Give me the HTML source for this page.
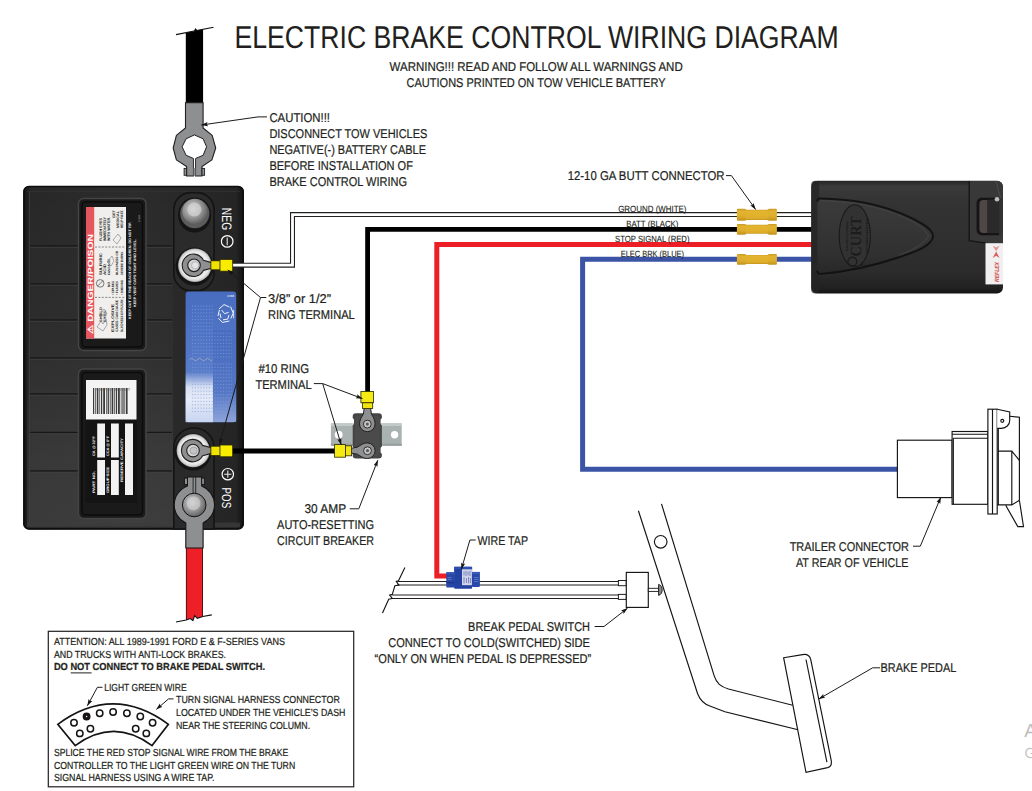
<!DOCTYPE html>
<html lang="en">
<head>
<meta charset="utf-8">
<title>Electric Brake Control Wiring Diagram</title>
<style>
  html, body { margin: 0; padding: 0; background: #ffffff; }
  body { width: 1032px; height: 791px; overflow: hidden; position: relative; }
  svg { display: block; position: absolute; left: 0; top: 0; }
  text { font-family: "Liberation Sans", sans-serif; text-rendering: geometricPrecision; fill: #231f20; stroke: #231f20; stroke-width: 0.22px; }
  #battery text, #controller text, #watermark text { stroke: none; }
  .t  { font-size: 12.8px; }
  .ts { font-size: 10.2px; }
  .tw { font-size: 9px; stroke-width: 0.12px; }
  .ld { fill: none; stroke: #1d1a1b; stroke-width: 1; }
  .ln { fill: none; stroke: #161314; stroke-width: 1.15; }
</style>
</head>
<body>
<svg width="1032" height="791" viewBox="0 0 1032 791">
  <defs>
    <marker id="ah" viewBox="0 0 10 10" refX="9.5" refY="5" markerWidth="6.8" markerHeight="6.8" orient="auto-start-reverse" markerUnits="userSpaceOnUse">
      <path d="M0,1.9 L10,5 L0,8.1 L1.8,5 Z" fill="#161314"/>
    </marker>
  </defs>
  <rect x="0" y="0" width="1032" height="791" fill="#ffffff"/>

  <!-- ================= TITLE ================= -->
  <g id="title">
    <text x="234.4" y="47.9" style="stroke-width:0.05px" font-size="31.6" textLength="604.4" lengthAdjust="spacingAndGlyphs">ELECTRIC BRAKE CONTROL WIRING DIAGRAM</text>
    <text class="t" x="389.6" y="71" textLength="293.1" lengthAdjust="spacingAndGlyphs">WARNING!!! READ AND FOLLOW ALL WARNINGS AND</text>
    <text class="t" x="406.6" y="86.9" textLength="258.9" lengthAdjust="spacingAndGlyphs">CAUTIONS PRINTED ON TOW VEHICLE BATTERY</text>
  </g>

  <!-- ================= BATTERY ================= -->
  <defs>
    <linearGradient id="batBody" x1="0" y1="0" x2="1" y2="0">
      <stop offset="0" stop-color="#141414"/>
      <stop offset="0.035" stop-color="#282828"/>
      <stop offset="0.5" stop-color="#2c2c2c"/>
      <stop offset="0.965" stop-color="#252525"/>
      <stop offset="1" stop-color="#121212"/>
    </linearGradient>
    <linearGradient id="blueLbl" x1="0" y1="0" x2="0" y2="1">
      <stop offset="0" stop-color="#486dc0"/>
      <stop offset="0.5" stop-color="#5478c7"/>
      <stop offset="0.8" stop-color="#6284cd"/>
      <stop offset="1" stop-color="#6c8cd2"/>
    </linearGradient>
    <linearGradient id="blueFade" x1="0" y1="0" x2="0" y2="1">
      <stop offset="0" stop-color="#ffffff" stop-opacity="0"/>
      <stop offset="0.3" stop-color="#ffffff" stop-opacity="0.75"/>
      <stop offset="0.55" stop-color="#f4f7fd" stop-opacity="0.9"/>
      <stop offset="1" stop-color="#dfe8f8" stop-opacity="0.8"/>
    </linearGradient>
    <linearGradient id="blueFade2" x1="0" y1="0" x2="0" y2="1">
      <stop offset="0" stop-color="#ffffff" stop-opacity="0"/>
      <stop offset="1" stop-color="#ffffff" stop-opacity="0.3"/>
    </linearGradient>
    <linearGradient id="batV" x1="0" y1="0" x2="0" y2="1">
      <stop offset="0" stop-color="#ffffff" stop-opacity="0"/>
      <stop offset="0.45" stop-color="#ffffff" stop-opacity="0.025"/>
      <stop offset="0.8" stop-color="#ffffff" stop-opacity="0.075"/>
      <stop offset="1" stop-color="#ffffff" stop-opacity="0.085"/>
    </linearGradient>
    <radialGradient id="silver" cx="0.42" cy="0.4" r="0.65">
      <stop offset="0" stop-color="#d9d9d9"/>
      <stop offset="0.5" stop-color="#9c9c9c"/>
      <stop offset="1" stop-color="#585858"/>
    </radialGradient>
    <radialGradient id="post" cx="0.5" cy="0.5" r="0.5">
      <stop offset="0" stop-color="#e2e2e2"/>
      <stop offset="0.8" stop-color="#ebebeb"/>
      <stop offset="0.93" stop-color="#cfcfcf"/>
      <stop offset="1" stop-color="#9a9a9a"/>
    </radialGradient>
  </defs>
  <g id="battery">
    <rect x="23.4" y="186" width="220.3" height="343.4" rx="5.5" ry="5.5" fill="url(#batBody)"/>
    <rect x="23.9" y="186.5" width="219.3" height="342.4" rx="5" ry="5" fill="none" stroke="#0e0e0e" stroke-width="1.6"/>
    <rect x="27" y="190" width="146" height="336" fill="url(#batV)"/>
    <!-- subtle moulded grid -->
    <g stroke="#181818" stroke-width="1.4">
      <path d="M29,246 H172 M29,284 H172 M29,320 H172 M29,358 H172 M29,394 H172 M29,432.5 H172 M29,471 H172"/>
    </g>
    <g stroke="#424242" stroke-width="1.1" opacity="0.8">
      <path d="M29,247.3 H172 M29,285.3 H172 M29,321.3 H172 M29,359.3 H172 M29,395.3 H172 M29,433.8 H172 M29,472.3 H172"/>
      <path d="M29.5,192 V523"/>
    </g>
    <rect x="27" y="522.6" width="213" height="4.6" fill="#3c3c3c" opacity="0.75"/>
    <path d="M27,191.4 H240" stroke="#343434" stroke-width="1" opacity="0.8"/>

    <!-- terminal channel -->
    <rect x="173.8" y="192.6" width="40.2" height="98" rx="17" ry="17" fill="#2b2b2b" stroke="#141414" stroke-width="1.6"/>
    <path d="M173.8,529 V447 a20.1,19 0 0 1 40.2,0 V529 Z" fill="#2a2a2a" stroke="#141414" stroke-width="1.6"/>

    <!-- warning label cap (top) -->
    <rect x="78.5" y="198.5" width="67.5" height="152" rx="5" fill="#1a1a1a" stroke="#444444" stroke-width="1.5"/>
    <rect x="82" y="202" width="60.5" height="145" rx="3.5" fill="none" stroke="#0c0c0c" stroke-width="1.4"/>
    <rect x="86" y="207" width="40" height="131.5" fill="#f1efee"/>
    <rect x="86" y="207" width="8.2" height="131.5" fill="#e5575e"/>
    <g transform="translate(92.8,334) rotate(-90)">
      <text x="0" y="0" font-size="7.6" font-weight="bold" style="fill:#ffffff" textLength="100" lengthAdjust="spacingAndGlyphs">⚠ DANGER/POISON</text>
    </g>
    <g stroke="#5a5a5a" stroke-width="0.7" stroke-dasharray="2 1.4">
      <path d="M95,247 H125 M95,297.4 H125"/>
    </g>
    <g font-weight="bold">
      <g transform="translate(102,322) rotate(-90)"><text x="0" y="0" font-size="3.5" textLength="15" lengthAdjust="spacingAndGlyphs">SHIELD</text></g>
      <g transform="translate(105.6,322) rotate(-90)"><text x="0" y="0" font-size="3.5" textLength="12" lengthAdjust="spacingAndGlyphs">EYES.</text></g>
      <g transform="translate(114,332) rotate(-90)"><text x="0" y="0" font-size="3.8" textLength="28" lengthAdjust="spacingAndGlyphs">EXPLOSIVE</text></g>
      <g transform="translate(118.3,332) rotate(-90)"><text x="0" y="0" font-size="3.5" textLength="32" lengthAdjust="spacingAndGlyphs">GASES CAN CAUSE</text></g>
      <g transform="translate(122.6,332) rotate(-90)"><text x="0" y="0" font-size="3.5" textLength="33" lengthAdjust="spacingAndGlyphs">BLINDNESS OR INJURY.</text></g>
      <g transform="translate(109.5,287) rotate(-90)"><text x="0" y="0" font-size="3.5" textLength="5" lengthAdjust="spacingAndGlyphs">NO</text></g>
      <g transform="translate(114,295) rotate(-90)"><text x="0" y="0" font-size="3.3" textLength="14" lengthAdjust="spacingAndGlyphs">• SPARKS</text></g>
      <g transform="translate(118.3,295) rotate(-90)"><text x="0" y="0" font-size="3.3" textLength="14" lengthAdjust="spacingAndGlyphs">• FLAMES</text></g>
      <g transform="translate(122.6,295) rotate(-90)"><text x="0" y="0" font-size="3.3" textLength="15" lengthAdjust="spacingAndGlyphs">• SMOKING</text></g>
      <g transform="translate(102,275) rotate(-90)"><text x="0" y="0" font-size="3.8" textLength="22" lengthAdjust="spacingAndGlyphs">SULFURIC</text></g>
      <g transform="translate(106,275) rotate(-90)"><text x="0" y="0" font-size="3.8" textLength="11" lengthAdjust="spacingAndGlyphs">ACID</text></g>
      <g transform="translate(110.4,275) rotate(-90)"><text x="0" y="0" font-size="3.3" textLength="16" lengthAdjust="spacingAndGlyphs">CAN CAUSE</text></g>
      <g transform="translate(118.3,275) rotate(-90)"><text x="0" y="0" font-size="3.3" textLength="24" lengthAdjust="spacingAndGlyphs">BLINDNESS OR</text></g>
      <g transform="translate(122.6,275) rotate(-90)"><text x="0" y="0" font-size="3.3" textLength="24" lengthAdjust="spacingAndGlyphs">SEVERE BURNS.</text></g>
      <g transform="translate(102,241) rotate(-90)"><text x="0" y="0" font-size="3.8" textLength="23" lengthAdjust="spacingAndGlyphs">FLUSH EYES</text></g>
      <g transform="translate(106,241) rotate(-90)"><text x="0" y="0" font-size="3.8" textLength="24" lengthAdjust="spacingAndGlyphs">IMMEDIATELY</text></g>
      <g transform="translate(110.4,241) rotate(-90)"><text x="0" y="0" font-size="3.8" textLength="24" lengthAdjust="spacingAndGlyphs">WITH WATER.</text></g>
      <g transform="translate(114.8,218) rotate(-90)"><text x="0" y="0" font-size="3.6" textLength="8" lengthAdjust="spacingAndGlyphs">GET</text></g>
      <g transform="translate(118.6,228) rotate(-90)"><text x="0" y="0" font-size="3.6" textLength="17" lengthAdjust="spacingAndGlyphs">MEDICAL</text></g>
      <g transform="translate(122.6,228) rotate(-90)"><text x="0" y="0" font-size="3.6" textLength="18" lengthAdjust="spacingAndGlyphs">HELP FAST.</text></g>
    </g>
    <circle cx="100.2" cy="283.4" r="3.8" fill="none" stroke="#444" stroke-width="0.7"/>
    <path d="M97.6,286 L102.8,280.8" stroke="#444" stroke-width="0.7"/>
    <path d="M97,327 l4,-6 l2,3 l3,-5 l1,6 l-4,6 z M99,316 l5,-7 l3,5 z M107,262 l5,-6 l2,5 l-3,5 z M113,240 l5,-6 l3,4 l-4,6 z" fill="none" stroke="#777" stroke-width="0.6"/>
      <g transform="translate(131.2,319) rotate(-90)"><text font-weight="bold" x="0" y="0" font-size="3.6" style="fill:#f4f4f4" textLength="97" lengthAdjust="spacingAndGlyphs">KEEP OUT OF THE REACH OF CHILDREN. DO NOT TIP.</text></g>
      <g transform="translate(135.5,307) rotate(-90)"><text font-weight="bold" x="0" y="0" font-size="3.6" style="fill:#f4f4f4" textLength="68" lengthAdjust="spacingAndGlyphs">KEEP VENT CAPS TIGHT AND LEVEL.</text></g>
      <g transform="translate(139.5,222) rotate(-90)"><text x="0" y="0" font-size="2.4" style="fill:#bbbbbb" textLength="7" lengthAdjust="spacingAndGlyphs">3-304</text></g>

    <!-- spec label cap (bottom) -->
    <rect x="78.5" y="369" width="67.5" height="149.5" rx="5" fill="#1a1a1a" stroke="#444444" stroke-width="1.5"/>
    <rect x="82" y="372.5" width="60.5" height="142.5" rx="3.5" fill="none" stroke="#0c0c0c" stroke-width="1.4"/>
    <rect x="85.5" y="419" width="51.5" height="84" fill="#141414"/>
    <rect x="86" y="380" width="50.5" height="39.5" fill="#f4f4f4"/>
    <g fill="#3a3a3a">
      <rect x="93" y="388" width="1.2" height="26"/><rect x="95.2" y="388" width="0.7" height="26"/><rect x="96.8" y="388" width="1.6" height="26"/>
      <rect x="99.4" y="388" width="0.7" height="26"/><rect x="101" y="388" width="1.2" height="26"/><rect x="103.2" y="388" width="1.8" height="26"/>
      <rect x="106" y="388" width="0.7" height="26"/><rect x="107.6" y="388" width="1.3" height="26"/><rect x="109.8" y="388" width="0.8" height="26"/>
      <rect x="111.6" y="388" width="1.7" height="26"/><rect x="114.2" y="388" width="0.7" height="26"/><rect x="115.8" y="388" width="1.3" height="26"/>
      <rect x="118" y="388" width="1.8" height="26"/><rect x="120.8" y="388" width="0.7" height="26"/><rect x="122.4" y="388" width="1.2" height="26"/>
      <rect x="124.4" y="388" width="0.8" height="26"/><rect x="126" y="388" width="1.6" height="26"/>
    </g>
    <g transform="translate(130,388) rotate(180)"><text x="0" y="0" font-size="3.8" style="fill:#555" textLength="34" lengthAdjust="spacingAndGlyphs">0 31996 76168 9</text></g>
    <g fill="#f2f2f2">
      <rect x="97.2" y="423.5" width="7.8" height="34"/><rect x="97.2" y="460" width="7.8" height="35"/>
      <rect x="111" y="423.5" width="7.8" height="34"/><rect x="111" y="460" width="7.8" height="35"/>
      <rect x="125" y="423.5" width="8" height="71.5"/>
    </g>
    <g font-weight="bold">
      <g transform="translate(95.4,456) rotate(-90)"><text x="0" y="0" font-size="3.6" style="fill:#f0f0f0" textLength="20" lengthAdjust="spacingAndGlyphs">CA @ 32°F</text></g>
      <g transform="translate(109.2,456) rotate(-90)"><text x="0" y="0" font-size="3.6" style="fill:#f0f0f0" textLength="20" lengthAdjust="spacingAndGlyphs">CCA @ 0°F</text></g>
      <g transform="translate(95.4,493) rotate(-90)"><text x="0" y="0" font-size="3.6" style="fill:#f0f0f0" textLength="22" lengthAdjust="spacingAndGlyphs">PART NO.</text></g>
      <g transform="translate(109.2,493) rotate(-90)"><text x="0" y="0" font-size="3.6" style="fill:#f0f0f0" textLength="26" lengthAdjust="spacingAndGlyphs">GROUP SIZE</text></g>
      <g transform="translate(123.2,482) rotate(-90)"><text x="0" y="0" font-size="3.6" style="fill:#f0f0f0" textLength="44" lengthAdjust="spacingAndGlyphs">RESERVE CAPACITY</text></g>
    </g>

    <!-- blue label -->
    <rect x="185.6" y="291.4" width="50.6" height="130.8" rx="3" fill="url(#blueLbl)"/>
    <rect x="213" y="330" width="23.2" height="92.2" fill="#3f62b6" opacity="0.35"/>
    <rect x="185.6" y="372" width="27.4" height="50.2" fill="url(#blueFade)"/>
    <rect x="213" y="392" width="23.2" height="30" fill="url(#blueFade2)"/>
    <g stroke="#86a2de" stroke-width="0.9" stroke-dasharray="1.2 1.6" opacity="0.75">
      <path d="M192,306 h22 M192,309.4 h22 M192,312.8 h22 M192,316.2 h22 M192,319.6 h22 M192,323 h22 M192,326.4 h22 M192,329.8 h22 M192,333.2 h40 M192,336.6 h40 M192,340 h40 M192,343.4 h40 M192,346.8 h40 M192,350.2 h40 M192,353.6 h40 M192,357 h40 M192,364 h40 M192,367.4 h40 M192,370.8 h40 M192,374.2 h40 M192,377.6 h40 M192,381 h40 M192,384.4 h40 M192,387.8 h40 M192,391.2 h40 M192,394.6 h40 M192,398 h40 M192,401.4 h40 M192,404.8 h40 M192,408.2 h40 M192,411.6 h40"/>
    </g>
    <g fill="none" stroke="#f1f4fb" stroke-width="1">
      <path d="M219,309 l5,-4.4 l5.4,2.4 M230.6,306.6 l2.6,6.6 l-2.4,5.4 M229.4,321 l-7,1.4 l-4,-4.2 M218,316 l1.4,-6 M221.6,310 l3,3.6 l4,-1.2 M229,315 l-1.4,4.2 l-4.6,0.6 M221,318 l-1,-4.4"/>
      <path d="M233.6,310 v8.4" stroke-width="0.8"/>
    </g>
    <text x="227" y="297.2" font-size="2.8" font-weight="bold" style="fill:#eef2fb" textLength="7" lengthAdjust="spacingAndGlyphs">J-004</text>
    <path d="M189.6,359.6 q2,-2.4 4,0 t4,0 t4,0 t4,0 t4,0 t3,0" fill="none" stroke="#c8c4c4" stroke-width="0.7" opacity="0.8"/>

    <!-- NEG post -->
    <ellipse cx="194.6" cy="215" rx="16.6" ry="17.6" fill="#151515"/>
    <circle cx="194.8" cy="213.6" r="14.6" fill="#5c5c5c"/>
    <circle cx="194.9" cy="211.4" r="12.6" fill="url(#silver)"/>
    <circle cx="194.4" cy="209.6" r="7" fill="#d4d4d4" opacity="0.7"/>
    <!-- NEG ring post -->
    <circle cx="194.6" cy="266.6" r="19" fill="#141414"/>
    <circle cx="194.9" cy="265.2" r="16.8" fill="url(#post)"/>
    <!-- POS ring post -->
    <circle cx="193" cy="452" r="18.6" fill="#141414"/>
    <circle cx="193.2" cy="450.6" r="16.6" fill="url(#post)"/>

    <!-- NEG / POS lettering -->
    <g transform="translate(222.2,207.8) rotate(90)"><text x="0" y="0" font-size="13.6" style="fill:#ffffff" textLength="22.4" lengthAdjust="spacingAndGlyphs">NEG</text></g>
    <circle cx="227.2" cy="241.4" r="5.8" fill="none" stroke="#ffffff" stroke-width="1.2"/>
    <path d="M227.2,237.6 V245.2" stroke="#e8e8e8" stroke-width="1.1"/>
    <g transform="translate(222.4,487.6) rotate(90)"><text x="0" y="0" font-size="13" style="fill:#ffffff" textLength="20.6" lengthAdjust="spacingAndGlyphs">POS</text></g>
    <circle cx="227.8" cy="474.2" r="5.7" fill="none" stroke="#ffffff" stroke-width="1.2"/>
    <path d="M227.8,470.6 V477.8 M224.2,474.2 H231.4" stroke="#e8e8e8" stroke-width="1.1"/>
  </g>
  <!-- ================= WIRES ================= -->
  <g id="wires" fill="none" stroke-linejoin="miter">
    <!-- white (ground) -->
    <path d="M232,265.2 H292.5 V214.6 H813" stroke="#231f20" stroke-width="5"/>
    <path d="M232,265.2 H292.5 V214.6 H813" stroke="#ffffff" stroke-width="2.8"/>
    <!-- black (batt) -->
    <path d="M813,229.4 H367.6 V392" stroke="#000000" stroke-width="4.8"/>
    <path d="M231,450.9 H336" stroke="#000000" stroke-width="5"/>
    <!-- red (stop) -->
    <path d="M813,244.5 H436.8 V576.1 H448" stroke="#ec1f26" stroke-width="5"/>
    <!-- blue (brake) -->
    <path d="M813,259.2 H582.6 V469.3 H897.4" stroke="#3b54a5" stroke-width="5"/>
  </g>

  <!-- placeholders for components: filled in below -->
  <!-- ================= NEGATIVE CABLE (disconnected) ================= -->
  <g id="negcable">
    <path d="M185.8,32.7 L191.8,31.5 L193.4,32.1 L195.5,28 L197.2,30.3 L203.1,29.2 V103 H185.8 Z" fill="#000000"/>
    <path d="M176,34.6 L213.5,27.2" stroke="#111111" stroke-width="1.1" fill="none"/>
    <!-- lug -->
    <path d="M185.5,102.6 H203.1 V128 L212.2,135.4 L215.7,148 L211.9,159.9 L202,166.5 V176 H195.5 V159.3 H193.5 V176 H186.6 V166.5 L176.4,159.9 L173.2,148 L176.4,135.4 L185.5,128 Z" fill="#8d8f90" stroke="#231f20" stroke-width="1.1" stroke-linejoin="round"/>
    <!-- hole -->
    <path d="M194.4,134.9 L203.1,138.8 L206.6,146.8 L203.1,155.3 L195.5,158.5 V160 H193.5 V158.5 L186.1,155.3 L182.1,146.8 L186.1,138.8 Z" fill="#ffffff" stroke="#231f20" stroke-width="1" stroke-linejoin="round"/>
    <rect x="193.9" y="157.6" width="1.2" height="10.4" fill="#ffffff"/>
    <rect x="193.5" y="168" width="2" height="8" fill="#8d8f90"/>
    <!-- pinch bolt -->
    <rect x="184.1" y="168.4" width="2.5" height="6.9" fill="#8d8f90" stroke="#231f20" stroke-width="0.9"/>
    <rect x="202" y="168.4" width="2.6" height="6.9" fill="#8d8f90" stroke="#231f20" stroke-width="0.9"/>
  </g>
  <!-- ================= POSITIVE CABLE / CLAMP ================= -->
  <g id="poscable">
    <path d="M186.2,548 H202.7 V616.5 L197.3,618.3 L194.7,615.6 L192.9,620.6 L190.3,618.5 L186.2,620 Z" fill="#ed2027"/>
    <path d="M186.4,548 V620 M202.5,548 V616.6" stroke="#3a0a0c" stroke-width="0.9" fill="none"/>
    <path d="M176,622 L186.2,620 L190.3,618.5 L192.9,620.6 L194.7,615.6 L197.3,618.3 L202.7,616.5 L211.8,614.9" stroke="#111111" stroke-width="1.1" fill="none"/>
    <!-- clamp -->
    <path d="M185.8,548 V523.1 A20.2,20.2 0 0 1 187.4,485.9 V477 H201.7 V486 A20.2,20.2 0 0 1 203.1,523 V548 Z" fill="#8d8f90" stroke="#161314" stroke-width="1.1" stroke-linejoin="round"/>
    <path d="M193.1,477 V493.6 M195.7,477 V493.6" stroke="#232323" stroke-width="0.9" fill="none"/>
    <rect x="184.4" y="478.1" width="3" height="6.3" fill="#8d8f90" stroke="#161314" stroke-width="0.9"/>
    <rect x="201.7" y="478.1" width="2.7" height="6.3" fill="#8d8f90" stroke="#161314" stroke-width="0.9"/>
    <circle cx="194.2" cy="505" r="11.8" fill="url(#silver)" stroke="#161314" stroke-width="1"/>
    <circle cx="193.6" cy="503.4" r="6.8" fill="#d2d2d2" opacity="0.6"/>
  </g>
  <!-- ================= RING TERMINALS / CIRCUIT BREAKER ================= -->
  <g id="ringterms">
    <!-- NEG ring terminal on battery -->
    <path d="M203.4,260.2 L211.4,262.6 V268.2 L203.4,270.4 A11.2,11.2 0 1 1 203.4,260.2 Z" fill="#8d8f90" stroke="#231f20" stroke-width="1.1" stroke-linejoin="round"/>
    <circle cx="194" cy="265.3" r="6.3" fill="#d4d4d4" stroke="#231f20" stroke-width="1.1"/>
    <circle cx="195.2" cy="265.3" r="3.6" fill="#e4e4e4" stroke="#9a9a9a" stroke-width="0.6"/>
    <rect x="210.9" y="260.8" width="9.4" height="9" fill="#f1e300" stroke="#2a2700" stroke-width="0.8"/>
    <rect x="220" y="259.4" width="12.7" height="11.8" fill="#f8ec00" stroke="#2a2700" stroke-width="0.8"/>
    <!-- POS ring terminal on battery -->
    <path d="M202.6,445.4 L211.4,447.8 V453.4 L202.6,455.8 A11.2,11.2 0 1 1 202.6,445.4 Z" fill="#8d8f90" stroke="#231f20" stroke-width="1.1" stroke-linejoin="round"/>
    <circle cx="193" cy="450.6" r="6.3" fill="#d4d4d4" stroke="#231f20" stroke-width="1.1"/>
    <circle cx="193.6" cy="450.6" r="3.6" fill="#c4c4c4" stroke="#8d8d8d" stroke-width="0.6"/>
    <rect x="210.9" y="446.2" width="9.4" height="9.4" fill="#f1e300" stroke="#2a2700" stroke-width="0.8"/>
    <rect x="220" y="445" width="12.7" height="11.8" fill="#f8ec00" stroke="#2a2700" stroke-width="0.8"/>
  </g>
  <g id="breaker">
    <!-- bracket -->
    <rect x="330.9" y="423.4" width="70.8" height="22.4" fill="#aab2b1"/>
    <rect x="330.9" y="423.4" width="70.8" height="2.6" fill="#c3c9c8"/>
    <rect x="330.9" y="443.6" width="70.8" height="2.2" fill="#98a09f"/>
    <circle cx="338.7" cy="434.7" r="3.9" fill="#ffffff"/>
    <circle cx="394.6" cy="434.7" r="3.7" fill="#ffffff"/>
    <!-- body -->
    <path d="M356,413.3 H378.6 a3.3,3.3 0 0 1 3.3,3.3 V418 L380.6,419.4 V424 L381.9,425.4 V446.4 L380.6,447.8 V452.6 L381.9,454 V455.3 a3.3,3.3 0 0 1 -3.3,3.3 H356 a3.3,3.3 0 0 1 -3.3,-3.3 V454 L354,452.6 V447.8 L352.7,446.4 V425.4 L354,424 V419.4 L352.7,418 V416.6 a3.3,3.3 0 0 1 3.3,-3.3 Z" fill="#454546"/>
    <rect x="355" y="416" width="24.6" height="40" rx="2" fill="#4b4b4c"/>
    <!-- top ring terminal -->
    <path d="M364.2,408 H370.6 L371.4,414 C373.4,417.4 375.1,420 375.1,423.9 A7.8,7.8 0 1 1 359.5,423.9 C359.5,420 361.4,417.4 363.4,414 Z" fill="#8d8f90" stroke="#231f20" stroke-width="1" stroke-linejoin="round"/>
    <circle cx="367.3" cy="424.1" r="3.9" fill="#c9c9c9" stroke="#231f20" stroke-width="0.9"/>
    <circle cx="367.3" cy="424.1" r="1.6" fill="#5e5e5e"/>
    <!-- bottom ring terminal -->
    <path d="M351.5,448.2 L357.4,447.2 C360.8,445 363.4,442.9 367.3,442.9 A7.8,7.8 0 1 1 367.3,458.5 C363.4,458.5 360.8,456.4 357.4,454.2 L351.5,453.2 Z" fill="#8d8f90" stroke="#231f20" stroke-width="1" stroke-linejoin="round"/>
    <circle cx="367.5" cy="450.7" r="3.9" fill="#c9c9c9" stroke="#231f20" stroke-width="0.9"/>
    <circle cx="367.5" cy="450.7" r="1.6" fill="#5e5e5e"/>
    <!-- yellow crimp (vertical, on black wire) -->
    <rect x="360.9" y="391.4" width="12.6" height="11.4" fill="#f6ea14" stroke="#2a2700" stroke-width="0.8"/>
    <rect x="362.4" y="402.8" width="10.3" height="5.8" fill="#f1e410" stroke="#2a2700" stroke-width="0.8"/>
    <!-- yellow crimp (horizontal) -->
    <rect x="334.6" y="444.6" width="10.8" height="12.6" fill="#f6ea14" stroke="#2a2700" stroke-width="0.8"/>
    <rect x="345.4" y="445.8" width="6.2" height="10" fill="#f1e410" stroke="#2a2700" stroke-width="0.8"/>
  </g>
  <!-- ================= BUTT CONNECTORS ================= -->
  <defs>
    <linearGradient id="buttG" x1="0" y1="0" x2="0" y2="1">
      <stop offset="0" stop-color="#c89a22"/>
      <stop offset="0.22" stop-color="#e2b332"/>
      <stop offset="0.6" stop-color="#deae2c"/>
      <stop offset="1" stop-color="#c2931e"/>
    </linearGradient>
  </defs>
  <g id="butt">
    <path d="M737.9,208.8 H744.6999999999999 L746.6999999999999,209.70000000000002 H767.1 L769.1,208.8 H775.9 Q776.9,208.8 776.9,209.8 V219.8 Q776.9,220.8 775.9,220.8 H769.1 L767.1,219.9 H746.6999999999999 L744.6999999999999,220.8 H737.9 Q736.9,220.8 736.9,219.8 V209.8 Q736.9,208.8 737.9,208.8 Z" fill="url(#buttG)"/>
    <rect x="745.6999999999999" y="210.50000000000003" width="22.4" height="8.6" fill="#e3b42e" opacity="0.55"/>
    <path d="M737.9,223.9 H744.6999999999999 L746.6999999999999,224.8 H767.1 L769.1,223.9 H775.9 Q776.9,223.9 776.9,224.9 V233.7 Q776.9,234.7 775.9,234.7 H769.1 L767.1,233.79999999999998 H746.6999999999999 L744.6999999999999,234.7 H737.9 Q736.9,234.7 736.9,233.7 V224.9 Q736.9,223.9 737.9,223.9 Z" fill="url(#buttG)"/>
    <rect x="745.6999999999999" y="225.60000000000002" width="22.4" height="7.4" fill="#e3b42e" opacity="0.55"/>
    <path d="M737.9,254 H744.6999999999999 L746.6999999999999,254.9 H767.1 L769.1,254 H775.9 Q776.9,254 776.9,255 V263.8 Q776.9,264.8 775.9,264.8 H769.1 L767.1,263.90000000000003 H746.6999999999999 L744.6999999999999,264.8 H737.9 Q736.9,264.8 736.9,263.8 V255 Q736.9,254 737.9,254 Z" fill="url(#buttG)"/>
    <rect x="745.6999999999999" y="255.70000000000002" width="22.4" height="7.4" fill="#e3b42e" opacity="0.55"/>
  </g>
  <!-- ================= BRAKE CONTROLLER ================= -->
  <defs>
    <linearGradient id="ctlBody" x1="0" y1="0" x2="0" y2="1">
      <stop offset="0" stop-color="#242424"/>
      <stop offset="0.05" stop-color="#3a3a3a"/>
      <stop offset="0.2" stop-color="#333333"/>
      <stop offset="0.8" stop-color="#2c2c2c"/>
      <stop offset="0.95" stop-color="#212121"/>
      <stop offset="1" stop-color="#131313"/>
    </linearGradient>
    <linearGradient id="ctlNose" x1="0" y1="0" x2="0" y2="1">
      <stop offset="0" stop-color="#3b3b3b"/>
      <stop offset="0.3" stop-color="#373737"/>
      <stop offset="0.75" stop-color="#303030"/>
      <stop offset="1" stop-color="#272727"/>
    </linearGradient>
  </defs>
  <g id="controller">
    <rect x="811.2" y="180.8" width="191.8" height="112.6" rx="6" ry="6" fill="url(#ctlBody)"/>
    <rect x="811.2" y="180.8" width="8" height="112.6" rx="4" fill="#242424" opacity="0.7"/>
    <!-- raised bullet -->
    <path d="M820.6,198.4 C850,199.4 872,202.2 899.8,213 C913,218.4 925,224 930.6,230.6 C933.6,234.4 933.6,238 930.6,241.6 C925,248.4 913,252.6 899.8,257 C872,266.4 850,271.6 820.6,273.9 C818.6,274 817.4,272.8 817.4,270.8 V201.4 C817.4,199.4 818.6,198.3 820.6,198.4 Z" fill="url(#ctlNose)"/>
    <path d="M817.4,201.4 C817.4,199.4 818.6,198.3 820.6,198.4 C850,199.4 872,202.2 899.8,213 C913,218.4 925,224 930.6,230.6 C932.6,233 933,234.4 933,236" fill="none" stroke="#141414" stroke-width="2"/>
    <path d="M933,236 C933,238 932.6,239.4 930.6,241.6 C925,248.4 913,252.6 899.8,257 C872,266.4 850,271.6 820.6,273.9 C818.6,274 817.4,272.8 817.4,270.8" fill="none" stroke="#121212" stroke-width="1.9"/>
    <path d="M821,200.6 C850,201.6 872,204.4 899,215 C912,220.4 923.6,227.4 928.8,235.8 C923.6,244.8 912,250.6 899,255.2" fill="none" stroke="#454545" stroke-width="1.1" opacity="0.8"/>
    <!-- logo oval -->
    <ellipse cx="854.8" cy="235.8" rx="15.6" ry="31" fill="#323232" stroke="#1a1a1a" stroke-width="1.1"/>
    <g transform="translate(861.4,256.5) rotate(-90)"><text x="0" y="0" font-size="15.5" font-weight="bold" style="fill:#1c1c1c;font-family:'Liberation Serif',serif" textLength="40" lengthAdjust="spacingAndGlyphs">CURT</text></g>
    <g transform="translate(848.4,251) rotate(-90)"><text x="0" y="0" font-size="2.8" font-weight="bold" style="fill:#191919" textLength="30" lengthAdjust="spacingAndGlyphs">MANUFACTURING</text></g>
    <g transform="translate(867.6,254) rotate(-90)"><text x="0" y="0" font-size="2.8" font-weight="bold" style="fill:#191919" textLength="36" lengthAdjust="spacingAndGlyphs">INCORPORATED</text></g>
    <circle cx="852.4" cy="261.6" r="4.4" fill="none" stroke="#1c1c1c" stroke-width="1.4"/>
    <path d="M862,262 v6 h4" fill="none" stroke="#1c1c1c" stroke-width="1.2"/>
    <!-- right panel -->
    <path d="M969.2,181 H997 a6,6 0 0 1 6,6 V243 H986 L969.2,240.6 Z" fill="#383838"/>
    <path d="M969.2,181 V240.6 L986,243.2" fill="none" stroke="#151515" stroke-width="1.3"/>
    <path d="M996,181 L1000.6,198" stroke="#555555" stroke-width="0.9" opacity="0.8"/>
    <path d="M981.6,197.8 h17.6 v37.4 h-17.6 a5,5 0 0 1 -5,-5 v-27.4 a5,5 0 0 1 5,-5 z" fill="#151313"/>
    <path d="M983.4,200 h4.2 v33 h-4.2 a4,4 0 0 1 -4,-4 v-25 a4,4 0 0 1 4,-4 z" fill="#4f4646"/>
    <rect x="987.4" y="199.6" width="11.8" height="33.6" fill="#2b2a2a"/>
    <rect x="999.2" y="197.8" width="3.8" height="37.4" fill="#333333"/>
    <circle cx="997" cy="199.3" r="2.3" fill="#bdbdbd"/>
    <!-- sticker -->
    <rect x="985.5" y="243.2" width="17.5" height="41.2" fill="#f1efef"/>
    <g transform="translate(998.6,282) rotate(-90)"><text x="0" y="0" font-size="6" font-weight="bold" font-style="italic" style="fill:#cf4a48" textLength="20" lengthAdjust="spacingAndGlyphs">REFLEX</text></g>
    <path d="M992.6,258 l3.6,-6.4 l3.4,6.4 l-3.4,-2.2 z" fill="#d4605e"/>
    <path d="M992.6,245.6 l3.6,5.6 l3.4,-5.6 l-3.4,1.8 z" fill="#e0908e"/>
  </g>
  <!-- ================= TRAILER CONNECTOR ================= -->
  <g id="trailer" class="ln" fill="#ffffff">
    <rect x="897.4" y="440.2" width="54.7" height="57.4" fill="#ffffff"/>
    <rect x="952.1" y="431.5" width="35.8" height="72.8" fill="#ffffff"/>
    <path d="M952.1,434.2 H987.9 M953.3,438.2 H987.9 M953.3,438.2 V504.3" fill="none"/>
    <rect x="987.9" y="409.2" width="9.3" height="104.8" fill="#ffffff"/>
    <path d="M992.5,409.2 V514" fill="none"/>
    <path d="M997.2,409.2 L1009.7,411.9 V420.4 C1009.7,425 1006,428 1001.6,428.4 H997.2" fill="#ffffff"/>
    <circle cx="1002.3" cy="420.8" r="1.5" fill="#ffffff"/>
    <path d="M1009.7,416.3 L1019.4,417.3 V500.3" fill="none"/>
    <path d="M998.3,428.4 V504.9 M998.3,451.1 H1011.8 V504.9 M1011.8,451.1 L1019.4,460.4 M997.2,504.9 H1011.8 L1019.4,500.3" fill="none"/>
    <path d="M1019.4,500.3 L1023.5,526.6 H1017.8 L1005.7,505.3" fill="none"/>
  </g>
  <!-- ================= SWITCH WIRES / WIRE TAP ================= -->
  <g id="switchwires">
    <!-- upper wire -->
    <path d="M397.6,583.2 H619.2" stroke="#231f20" stroke-width="4.6" fill="none"/>
    <path d="M397.4,583.2 H619.2" stroke="#ffffff" stroke-width="2.5" fill="none"/>
    <!-- lower wire -->
    <path d="M391.4,596.7 H619.2" stroke="#231f20" stroke-width="4.6" fill="none"/>
    <path d="M391.2,596.7 H619.2" stroke="#ffffff" stroke-width="2.5" fill="none"/>
    <!-- break line -->
    <path d="M404.9,567.4 L398.5,580.7 L396.2,581.4 L398.9,585.1 L394.9,585.8 L392.3,594.4 L389.6,595 L392.3,598.5 L388.7,599.2 L382.5,613" fill="none" stroke="#111111" stroke-width="1.1"/>
    <!-- pins into switch -->
    <rect x="618.4" y="580.5" width="7.9" height="5.2" fill="#ffffff" stroke="#231f20" stroke-width="1"/>
    <rect x="618.4" y="594.4" width="7.9" height="5" fill="#ffffff" stroke="#231f20" stroke-width="1"/>
  </g>
  <g id="wiretap">
    <rect x="446.3" y="572.2" width="8.2" height="15.4" rx="0.8" fill="#2746a6"/>
    <rect x="471.8" y="571.9" width="8.1" height="15" rx="0.8" fill="#2a4aab"/>
    <rect x="454.1" y="566.8" width="18" height="21.9" rx="1" fill="#2241a0"/>
    <rect x="454.1" y="566.8" width="18" height="2.4" fill="#2e4fb0"/>
    <rect x="446.3" y="572.2" width="8.2" height="2.2" fill="#3556b6"/>
    <rect x="471.8" y="571.9" width="8.1" height="2.2" fill="#3a5bba"/>
    <rect x="446.3" y="582" width="8.2" height="1.4" fill="#1b3486"/>
    <rect x="462" y="569.3" width="9.9" height="15.9" fill="#d3d6ea"/>
    <g stroke="#5f6fb4" stroke-width="0.8"><path d="M464,571.4 v4 M466,571 v5 M468,571.4 v4 M470,571 v5 M464,577 v6.4 M466.4,578 v5 M468.6,577 v6.4 M470.4,578 v5"/></g>
    <g stroke="#6a86d0" stroke-width="0.7"><path d="M474,577.5 h4.6 M474,579.5 h4.6 M474,581.5 h4.6 M447.6,577.5 h4 M447.6,579.5 h4"/></g>
  </g>
  <!-- ================= BRAKE SWITCH / PEDAL ================= -->
  <g id="pedal" class="ln">
    <rect x="626.3" y="572.4" width="22" height="35" fill="#ffffff"/>
    <rect x="648.3" y="588.3" width="10.4" height="3.1" fill="#ffffff" stroke-width="0.9"/>
    <path d="M658.6,584.4 C663.4,585.6 663.4,594.2 658.6,595.4 Z" fill="#8b8b8d" stroke-width="0.9"/>
    <!-- arm -->
    <path d="M638.4,510.7 L697.6,693.7 C700.5,701 704.5,704.4 710.5,706.3 L724.9,711.8 L798.1,729.8"/>
    <path d="M661.5,503.9 L714.1,675.7 C716.6,683.4 720.6,686.8 728.5,689 L792.7,705.3"/>
    <circle cx="660.7" cy="541.8" r="6.3" fill="#ffffff"/>
    <!-- pad -->
    <path d="M783.6,657.7 L802.6,654.6 C807.4,653.8 809.6,655.2 810.7,659.5 L831.2,760.4 C832,765 830.6,766.8 827.6,767.6 L806,772.3 Z" fill="#ffffff"/>
    <path d="M806,659.5 L826.9,762.2"/>
  </g>
  <!-- ================= ATTENTION BOX ================= -->
  <g id="attention">
    <rect x="48.3" y="631.3" width="305.4" height="155.5" fill="#ffffff" stroke="#231f20" stroke-width="1.2"/>
    <text class="ts" x="53.9" y="644.7" textLength="231" lengthAdjust="spacingAndGlyphs">ATTENTION: ALL 1989-1991 FORD E &amp; F-SERIES VANS</text>
    <text class="ts" x="53.9" y="657.8" textLength="172.1" lengthAdjust="spacingAndGlyphs">AND TRUCKS WITH ANTI-LOCK BRAKES.</text>
    <text class="ts" x="53.9" y="670.4" font-weight="bold" textLength="211.1" lengthAdjust="spacingAndGlyphs">DO NOT CONNECT TO BRAKE PEDAL SWITCH.</text>
    <path d="M70.7,672.9 H91.6" stroke="#231f20" stroke-width="1"/>
    <text class="ts" x="104.2" y="691" textLength="82.4" lengthAdjust="spacingAndGlyphs">LIGHT GREEN WIRE</text>
    <text class="ts" x="176" y="703.1" textLength="163.8" lengthAdjust="spacingAndGlyphs">TURN SIGNAL HARNESS CONNECTOR</text>
    <text class="ts" x="176" y="716.2" textLength="169.4" lengthAdjust="spacingAndGlyphs">LOCATED UNDER THE VEHICLE’S DASH</text>
    <text class="ts" x="176" y="728.8" textLength="134.1" lengthAdjust="spacingAndGlyphs">NEAR THE STEERING COLUMN.</text>
    <text class="ts" x="53.9" y="756" textLength="234.3" lengthAdjust="spacingAndGlyphs">SPLICE THE RED STOP SIGNAL WIRE FROM THE BRAKE</text>
    <text class="ts" x="53.9" y="768.6" textLength="241.3" lengthAdjust="spacingAndGlyphs">CONTROLLER TO THE LIGHT GREEN WIRE ON THE TURN</text>
    <text class="ts" x="53.9" y="781.2" textLength="160.5" lengthAdjust="spacingAndGlyphs">SIGNAL HARNESS USING A WIRE TAP.</text>
    <!-- harness connector -->
    <path d="M57.8,724.3 Q113,683.5 168.4,724.3 L152,745.6 Q113.6,717.2 75.2,745.6 Z" fill="#ffffff" stroke="#161314" stroke-width="1.6" stroke-linejoin="miter"/>
    <g fill="#ffffff" stroke="#161314" stroke-width="1.5">
      <circle cx="74" cy="722.8" r="3.2"/>
      <circle cx="99.7" cy="713.2" r="3.2"/>
      <circle cx="113.1" cy="712" r="3.2"/>
      <circle cx="126.9" cy="713.2" r="3.2"/>
      <circle cx="140.3" cy="716.5" r="3.2"/>
      <circle cx="152.6" cy="722.8" r="3.2"/>
      <circle cx="79.8" cy="733.4" r="3.2"/>
      <circle cx="90.4" cy="728.8" r="3.2"/>
      <circle cx="135.7" cy="728.8" r="3.2"/>
      <circle cx="146.3" cy="733.4" r="3.2"/>
      <circle cx="86.6" cy="716.5" r="3.2"/>
    </g>
    <circle cx="86.6" cy="716.5" r="3.4" fill="#161314"/><circle cx="86.6" cy="716.5" r="0.7" fill="#ffffff"/>
    <path d="M102.5,687.3 H97.4 L87.4,705.7" class="ld" marker-end="url(#ah)"/>
    <path d="M173.5,698.9 H168.5 L156.4,709.4" class="ld" marker-end="url(#ah)"/>
  </g>
  <!-- ================= LABELS & LEADERS ================= -->
  <g id="labels">
    <!-- caution -->
    <text class="t" x="269.4" y="122" textLength="60.6" lengthAdjust="spacingAndGlyphs">CAUTION!!!</text>
    <text class="t" x="269.4" y="138" textLength="157.9" lengthAdjust="spacingAndGlyphs">DISCONNECT TOW VEHICLES</text>
    <text class="t" x="269.4" y="153.9" textLength="156.6" lengthAdjust="spacingAndGlyphs">NEGATIVE(-) BATTERY CABLE</text>
    <text class="t" x="269.4" y="169.8" textLength="143.5" lengthAdjust="spacingAndGlyphs">BEFORE INSTALLATION OF</text>
    <text class="t" x="269.4" y="185.8" textLength="137.6" lengthAdjust="spacingAndGlyphs">BRAKE CONTROL WIRING</text>
    <path d="M267,116.9 H258 L201.4,125" class="ld" marker-end="url(#ah)"/>

    <!-- butt connector -->
    <text class="t" x="567.7" y="180" textLength="156.8" lengthAdjust="spacingAndGlyphs">12-10 GA BUTT CONNECTOR</text>
    <path d="M726,175.6 H731.4 L755.6,209.4" class="ld" marker-end="url(#ah)"/>

    <!-- wire names -->
    <text class="tw" x="618.2" y="211.8" textLength="68.3" lengthAdjust="spacingAndGlyphs">GROUND (WHITE)</text>
    <text class="tw" x="626.3" y="226.8" textLength="52.1" lengthAdjust="spacingAndGlyphs">BATT (BLACK)</text>
    <text class="tw" x="615.1" y="242" textLength="74.4" lengthAdjust="spacingAndGlyphs">STOP SIGNAL (RED)</text>
    <text class="tw" x="620.7" y="256.9" textLength="63.3" lengthAdjust="spacingAndGlyphs">ELEC BRK (BLUE)</text>

    <!-- ring terminal 3/8 -->
    <text class="t" x="268" y="302.5" textLength="63" lengthAdjust="spacingAndGlyphs">3/8” or 1/2”</text>
    <text class="t" x="268" y="319" textLength="86.8" lengthAdjust="spacingAndGlyphs">RING TERMINAL</text>
    <path d="M266.3,297.5 H260.5 L227.8,269.9" class="ld" marker-end="url(#ah)"/>
    <path d="M260.5,297.5 L219.4,444.6" class="ld" marker-end="url(#ah)"/>

    <!-- #10 ring terminal -->
    <text class="t" x="258.4" y="372.6" textLength="50.6" lengthAdjust="spacingAndGlyphs">#10 RING</text>
    <text class="t" x="255.4" y="388.5" textLength="56.2" lengthAdjust="spacingAndGlyphs">TERMINAL</text>
    <path d="M313.8,383.6 H322.7 L362.4,398.6" class="ld" marker-end="url(#ah)"/>
    <path d="M322.7,383.6 L341.2,444.8" class="ld" marker-end="url(#ah)"/>

    <!-- circuit breaker -->
    <text class="t" x="304.4" y="512.6" textLength="41.8" lengthAdjust="spacingAndGlyphs">30 AMP</text>
    <text class="t" x="277.1" y="529" textLength="96.9" lengthAdjust="spacingAndGlyphs">AUTO-RESETTING</text>
    <text class="t" x="277.1" y="545.2" textLength="96.9" lengthAdjust="spacingAndGlyphs">CIRCUIT BREAKER</text>
    <path d="M349.7,508.8 H358.8 L377.8,460.2" class="ld" marker-end="url(#ah)"/>

    <!-- wire tap -->
    <text class="t" x="477.5" y="545" textLength="50.5" lengthAdjust="spacingAndGlyphs">WIRE TAP</text>
    <path d="M475.7,540 H469.9 L461.4,569.2" class="ld" marker-end="url(#ah)"/>

    <!-- pedal switch -->
    <text class="t" x="468.1" y="631" textLength="121.9" lengthAdjust="spacingAndGlyphs">BREAK PEDAL SWITCH</text>
    <text class="t" x="388.2" y="647.2" textLength="201.8" lengthAdjust="spacingAndGlyphs">CONNECT TO COLD(SWITCHED) SIDE</text>
    <text class="t" x="374.6" y="662.9" textLength="216.7" lengthAdjust="spacingAndGlyphs">“ONLY ON WHEN PEDAL IS DEPRESSED”</text>
    <path d="M594.6,626.5 H604 L627.4,608.3" class="ld" marker-end="url(#ah)"/>

    <!-- trailer connector -->
    <text class="t" x="789.7" y="550.7" textLength="119.3" lengthAdjust="spacingAndGlyphs">TRAILER CONNECTOR</text>
    <text class="t" x="796" y="566.6" textLength="112.4" lengthAdjust="spacingAndGlyphs">AT REAR OF VEHICLE</text>
    <path d="M913,546.2 H920.3 L940.8,497.2" class="ld" marker-end="url(#ah)"/>

    <!-- brake pedal -->
    <text class="t" x="880.6" y="672.1" textLength="75.7" lengthAdjust="spacingAndGlyphs">BRAKE PEDAL</text>
    <path d="M880,667.8 H872.7 L818.8,699" class="ld" marker-end="url(#ah)"/>
  </g>
  <!-- ================= clipped watermark fragment at right edge ================= -->
  <g id="watermark">
    <text x="1024.2" y="736.9" font-size="19" style="fill:#bcbcbc">Activate Windows</text>
    <text x="1024.4" y="757.8" font-size="14.6" style="fill:#c4c4c4">Go to Settings to activate Windows.</text>
  </g>
</svg>
</body>
</html>
